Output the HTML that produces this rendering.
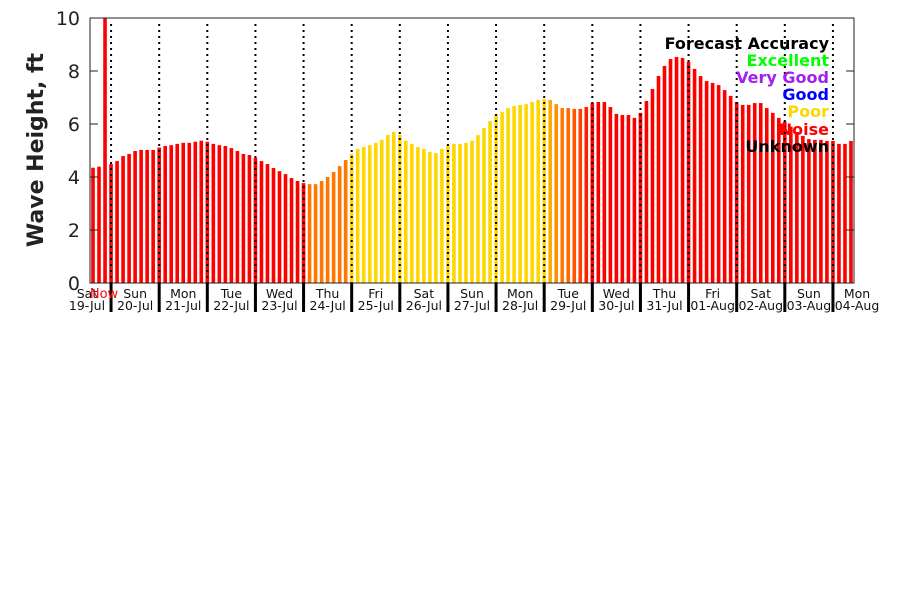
<!DOCTYPE html>
<html><head><meta charset="utf-8"><style>
body{margin:0;background:#fff;}
svg text{font-family:"DejaVu Sans","Liberation Sans",sans-serif;}
</style></head><body>
<svg id="chart" width="900" height="600" xmlns="http://www.w3.org/2000/svg">
<rect width="900" height="600" fill="#fff"/>
<g id="bars"></g>
<g id="grid"></g>
<rect x="90" y="18" width="764" height="265" fill="none" stroke="#222" stroke-width="1"/>
<g id="yaxis"></g>
<g id="xaxis"></g>
<text transform="translate(43,150) rotate(-90)" text-anchor="middle" font-size="22" font-weight="bold" fill="#222">Wave Height, ft</text>
<text x="104" y="298" text-anchor="middle" font-size="13" fill="#ff0000">Now</text>
<g font-size="16" font-weight="bold" text-anchor="end">
<text x="829" y="49" fill="#000">Forecast Accuracy</text>
<text x="829" y="66" fill="#00ff00">Excellent</text>
<text x="829" y="83" fill="#a020f0">Very Good</text>
<text x="829" y="100" fill="#0000ff">Good</text>
<text x="829" y="117" fill="#ffd700">Poor</text>
<text x="829" y="135" fill="#ff0000">Noise</text>
<text x="829" y="152" fill="#000">Unknown</text>
</g>
</svg>
<script>
const heights=[4.35,4.39,10,4.49,4.6,4.79,4.87,4.98,5.02,5.02,5.02,5.11,5.17,5.2,5.25,5.29,5.29,5.33,5.37,5.33,5.25,5.2,5.17,5.09,4.98,4.87,4.83,4.72,4.6,4.49,4.34,4.22,4.11,3.96,3.85,3.77,3.73,3.73,3.85,4.0,4.19,4.41,4.64,4.87,5.06,5.13,5.2,5.29,5.4,5.59,5.7,5.59,5.37,5.25,5.13,5.06,4.94,4.9,5.06,5.2,5.25,5.25,5.29,5.37,5.58,5.85,6.11,6.34,6.45,6.6,6.68,6.72,6.75,6.83,6.91,6.94,6.91,6.75,6.6,6.6,6.57,6.57,6.64,6.79,6.83,6.83,6.64,6.38,6.34,6.34,6.23,6.42,6.87,7.32,7.81,8.19,8.45,8.53,8.49,8.34,8.08,7.81,7.62,7.55,7.47,7.28,7.06,6.83,6.72,6.72,6.79,6.79,6.6,6.42,6.23,6.09,5.9,5.7,5.55,5.43,5.4,5.4,5.36,5.36,5.25,5.25,5.36];
const colorRanges=[[0,35,'#ff0000'],[36,42,'#ff7700'],[43,75,'#ffd700'],[76,76,'#ffaa00'],[77,77,'#ff9000'],[78,78,'#ff7a00'],[79,79,'#ff6a00'],[80,80,'#ff5500'],[81,81,'#ff4000'],[82,82,'#ff2000'],[83,126,'#ff0000']];
const dayNames=['Sat','Sun','Mon','Tue','Wed','Thu','Fri','Sat','Sun','Mon','Tue','Wed','Thu','Fri','Sat','Sun','Mon'];
const dayDates=['19-Jul','20-Jul','21-Jul','22-Jul','23-Jul','24-Jul','25-Jul','26-Jul','27-Jul','28-Jul','29-Jul','30-Jul','31-Jul','01-Aug','02-Aug','03-Aug','04-Aug'];
const yTicks=[0,2,4,6,8,10];
const NS='http://www.w3.org/2000/svg';
const X0=90,X1=854,Y0=283,Y1=18,N=heights.length;
const step=(X1-X0)/N;
const xs=i=>X0+i*step;
const ys=v=>Y0-(Math.min(v,10)/10)*(Y0-Y1);
function colorOf(i){for(const r of colorRanges){if(i>=r[0]&&i<=r[1])return r[2];}return '#ff0000';}
function mk(tag,attrs,parent){const e=document.createElementNS(NS,tag);for(const k in attrs)e.setAttribute(k,attrs[k]);parent.appendChild(e);return e;}
const gb=document.getElementById('bars');
heights.forEach((v,i)=>{
  const r=mk('rect',{x:xs(i)+1.2,y:ys(v),width:step*0.6,height:Y0-ys(v),fill:colorOf(i)},gb);
  
  
});
const gg=document.getElementById('grid'),gx=document.getElementById('xaxis');
const dayStart=3.5;
const nDiv=Math.floor((N-dayStart)/8)+1;
for(let d=0;d<nDiv;d++){
  const x=xs(dayStart+d*8);
  const l=mk('line',{x1:x,x2:x,y1:Y1+6,y2:Y0,stroke:'#000','stroke-width':2,'stroke-dasharray':'2,4'},gg);
  
  
  const t=mk('rect',{x:x-1.5,y:Y0,width:3,height:29,fill:'#000'},gx);
  
  
}
dayNames.forEach((n,d)=>{
  const cx=xs(dayStart+(d-0.5)*8);
  const a=mk('text',{x:cx,y:298,'text-anchor':'middle','font-size':12.5,fill:'#111'},gx);
  a.textContent=n;
  
  
  const b=mk('text',{x:cx,y:310,'text-anchor':'middle','font-size':12.5,fill:'#111'},gx);
  b.textContent=dayDates[d];
  
  
});
const gy=document.getElementById('yaxis');
yTicks.forEach(v=>{
  const y=ys(v);
  const t=mk('text',{x:80,y:y+7,'text-anchor':'end','font-size':19,fill:'#222'},gy);
  t.textContent=v;
  
  
  const a=mk('line',{x1:X0,x2:X0+8,y1:y,y2:y,stroke:'#222'},gy);
  
  
  const b=mk('line',{x1:X1-8,x2:X1,y1:y,y2:y,stroke:'#222'},gy);
  
  
});
</script>
</body></html>
